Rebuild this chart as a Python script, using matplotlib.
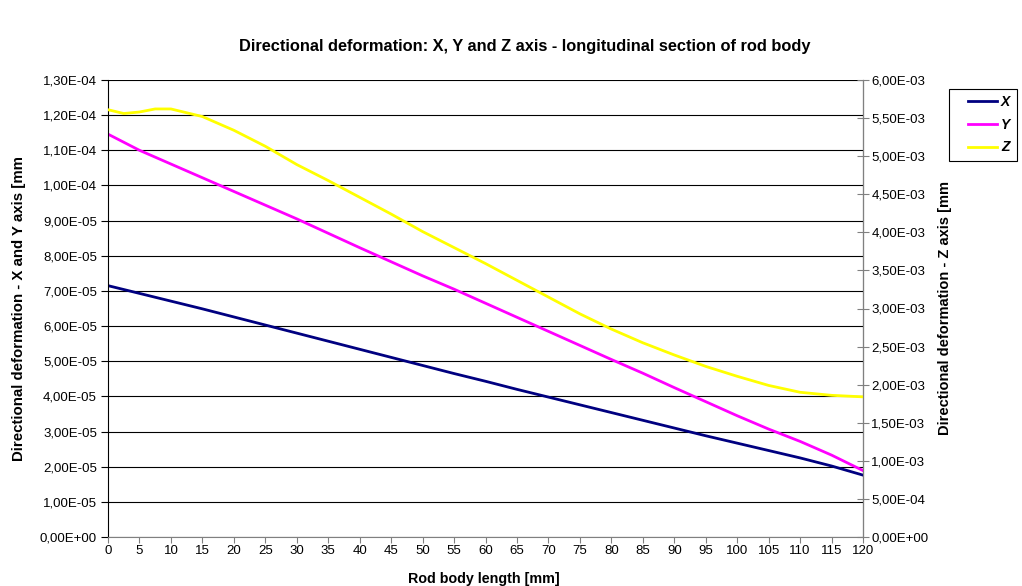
import matplotlib.pyplot as plt
from matplotlib.ticker import FuncFormatter, MultipleLocator
from matplotlib.legend_handler import HandlerLine2D

plt.rcParams['font.family'] = ['Liberation Sans', 'DejaVu Sans']

# rod body length [mm]
length = [0, 5, 10, 15, 20, 25, 30, 35, 40, 45, 50, 55, 60,
          65, 70, 75, 80, 85, 90, 95, 100, 105, 110, 115, 120]
# deformation X and Y [mm]
def_x = [7.15e-5, 6.93e-5, 6.71e-5, 6.49e-5, 6.26e-5, 6.03e-5, 5.80e-5, 5.57e-5,
         5.34e-5, 5.11e-5, 4.88e-5, 4.65e-5, 4.43e-5, 4.20e-5, 3.98e-5, 3.76e-5,
         3.54e-5, 3.32e-5, 3.10e-5, 2.88e-5, 2.67e-5, 2.46e-5, 2.25e-5, 2.02e-5, 1.76e-5]
def_y = [11.46e-5, 11.00e-5, 10.61e-5, 10.22e-5, 9.83e-5, 9.44e-5, 9.05e-5, 8.64e-5,
         8.23e-5, 7.83e-5, 7.43e-5, 7.05e-5, 6.65e-5, 6.25e-5, 5.85e-5, 5.45e-5,
         5.05e-5, 4.66e-5, 4.25e-5, 3.85e-5, 3.45e-5, 3.07e-5, 2.72e-5, 2.33e-5, 1.89e-5]
# deformation Z [mm]
length_z = [0, 2.5, 5, 7.5, 10, 15, 20, 25, 30, 35, 40, 45, 50, 55, 60,
            65, 70, 75, 80, 85, 90, 95, 100, 105, 110, 115, 120]
def_z = [5.61e-3, 5.56e-3, 5.58e-3, 5.62e-3, 5.62e-3, 5.52e-3, 5.34e-3, 5.13e-3, 4.89e-3,
         4.68e-3, 4.46e-3, 4.24e-3, 4.01e-3, 3.80e-3, 3.59e-3, 3.37e-3, 3.15e-3, 2.93e-3,
         2.73e-3, 2.55e-3, 2.39e-3, 2.24e-3, 2.11e-3, 1.99e-3, 1.90e-3, 1.86e-3, 1.84e-3]


def excel_fmt(v, pos):
    return f"{v:.2E}".replace('.', ',')


class PaddedLine(HandlerLine2D):
    # legend line drawn only on the right part of the handle box (Excel look)
    def create_artists(self, legend, orig_handle, xdescent, ydescent,
                       width, height, fontsize, trans):
        arts = super().create_artists(legend, orig_handle, xdescent, ydescent,
                                      width, height, fontsize, trans)
        for a in arts:
            xd = list(a.get_xdata())
            yd = list(a.get_ydata())
            if len(xd) > 1 and len(yd) > 0:
                x0, x1 = xd[0], xd[-1]
                a.set_data([x0 + 0.3 * (x1 - x0), x1], [yd[0], yd[0]])
        return arts


fig = plt.figure(figsize=(10.22, 5.86), dpi=100)
ax = fig.add_axes([108 / 1022, 1 - 537 / 586, (863 - 108) / 1022, (537 - 80) / 586])
ax2 = ax.twinx()

lx, = ax.plot(length, def_x, color='#000080', lw=2, label='X')
ly, = ax.plot(length, def_y, color='#FF00FF', lw=2, label='Y')
lz, = ax2.plot(length_z, def_z, color='#FFFF00', lw=2, label='Z')

ax.set_xlim(0, 120)
ax.set_ylim(0, 1.3e-4)
ax2.set_ylim(0, 6e-3)
ax.xaxis.set_major_locator(MultipleLocator(5))
ax.yaxis.set_major_locator(MultipleLocator(1e-5))
ax2.yaxis.set_major_locator(MultipleLocator(5e-4))
ax.yaxis.set_major_formatter(FuncFormatter(excel_fmt))
ax2.yaxis.set_major_formatter(FuncFormatter(excel_fmt))

ax.grid(axis='y', color='black', lw=0.8)
ax.set_axisbelow(True)

for a in (ax, ax2):
    a.spines['top'].set_visible(False)
ax.spines['left'].set_color('black')
ax.spines['bottom'].set_color('#808080')
ax2.spines['right'].set_color('#808080')
ax2.spines['left'].set_visible(False)
ax2.spines['bottom'].set_visible(False)

ax.tick_params(axis='y', direction='out', length=5, labelsize=9.5, pad=3)
ax.tick_params(axis='x', direction='out', length=4, labelsize=9.5, pad=2, color='#808080')
ax2.tick_params(axis='y', direction='inout', length=8, labelsize=9.5, pad=2, color='#808080')

fig.text(525 / 1022, 1 - 47 / 586,
         'Directional deformation: X, Y and Z axis - longitudinal section of rod body',
         ha='center', va='center', fontsize=11.8, fontweight='bold')
fig.text(484 / 1022, 1 - 579 / 586, 'Rod body length [mm]',
         ha='center', va='center', fontsize=10.3, fontweight='bold')
fig.text(19 / 1022, 1 - 309 / 586, 'Directional deformation - X and Y axis [mm',
         ha='center', va='center', rotation=90, fontsize=10.8, fontweight='bold')
fig.text(945 / 1022, 1 - 308 / 586, 'Directional deformation - Z axis [mm',
         ha='center', va='center', rotation=90, fontsize=10.5, fontweight='bold')

leg = fig.legend(handles=[lx, ly, lz], loc='upper left',
                 bbox_to_anchor=(949 / 1022, 1 - 89 / 586),
                 handler_map={lx: PaddedLine(), ly: PaddedLine(), lz: PaddedLine()},
                 prop={'weight': 'bold', 'style': 'italic', 'size': 10},
                 fancybox=False, edgecolor='black', framealpha=1,
                 handlelength=3.0, handletextpad=0.3, borderpad=0.45,
                 labelspacing=0.62, borderaxespad=0)
leg.get_frame().set_linewidth(0.8)

fig.savefig('out.png', dpi=100)
